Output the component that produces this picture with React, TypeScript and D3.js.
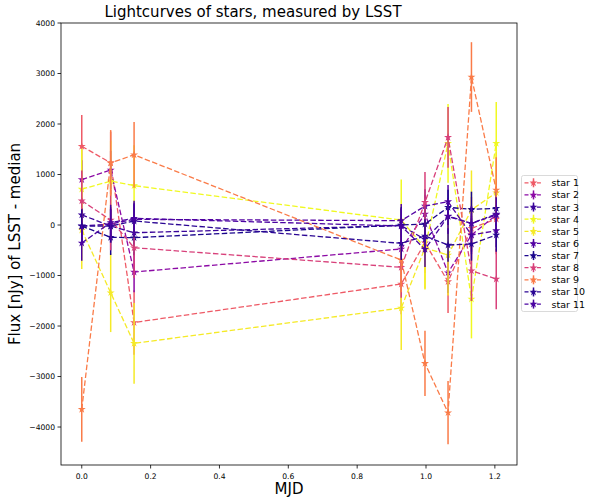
import React, { useEffect, useRef } from 'react'
import * as d3 from 'd3'

// time axis shared by all stars (MJD, shifted)
const mjd = [0, 0.084, 0.152, 0.928, 0.997, 1.064, 1.132, 1.204]

const starNames = ['star 1', 'star 2', 'star 3', 'star 4', 'star 5', 'star 6', 'star 7', 'star 8', 'star 9', 'star 10', 'star 11']

// flux minus median, nJy
const star1 = [1560, 1230, -1930, -1168, -350, -1122, -66, 119]
const star2 = [900, 1089, -931, -475, 218, -944, -198, 198]
const star3 = [200, -20, -152, -13, -284, 178, 33, 218]
const star4 = [710, 870, 780, 99, -455, 1617, -1465, 1617]
const star5 = [-100, -1340, -2343, -1643, -455, -594, 300, 640]
const star6 = [-20, 20, 112, 86, 376, 462, -198, -112]
const star7 = [-20, -244, -251, 0, 20, 350, 310, 330]
const star8 = [480, 99, -450, -838, 449, 1736, -905, -1069]
const star9 = [-3650, 1230, 1390, -693, -2740, -3716, 2930, 693]
const star10 = [-20, -20, 79, -363, -218, -396, -376, -198]
const star11 = [-356, 50, 132, -20, -482, 170, 30, 200]

// flux errors, nJy
const star1Err = [620, 620, 640, 600, 600, 620, 620, 700]
const star2Err = [380, 380, 400, 380, 380, 400, 380, 380]
const star3Err = [330, 330, 330, 330, 330, 330, 330, 330]
const star4Err = [800, 800, 800, 800, 800, 780, 780, 820]
const star5Err = [770, 780, 800, 830, 820, 800, 780, 800]
const star6Err = [330, 330, 330, 330, 330, 330, 330, 330]
const star7Err = [350, 350, 350, 350, 350, 350, 350, 350]
const star8Err = [600, 600, 600, 600, 600, 600, 600, 600]
const star9Err = [640, 650, 650, 640, 645, 625, 690, 650]
const star10Err = [330, 330, 330, 330, 330, 330, 330, 330]
const star11Err = [350, 350, 350, 350, 350, 350, 350, 350]

const yTicks = [-4000, -3000, -2000, -1000, 0, 1000, 2000, 3000, 4000]
const xTicks = [0, 0.2, 0.4, 0.6, 0.8, 1.0, 1.2]

const fluxes = [star1, star2, star3, star4, star5, star6, star7, star8, star9, star10, star11]
const errors = [star1Err, star2Err, star3Err, star4Err, star5Err, star6Err, star7Err, star8Err, star9Err, star10Err, star11Err]

const COLORS = ['#ee5a66', '#8c0aa5', '#3a049a', '#f0f921', '#f5ea27', '#5302a3', '#1b068d', '#d8407a', '#fa7b48', '#2a0593', '#4a03a1']

const W = 596
const H = 500
const M = { left: 61, right: 517, top: 23, bottom: 465 }
const FONT = 'DejaVu Sans, sans-serif'

type Pt = { x: number; y: number; e: number }

export default function App(): JSX.Element {
  const svgRef = useRef<SVGSVGElement | null>(null)

  useEffect(() => {
    const svg = d3.select(svgRef.current)
    svg.selectAll('*').remove()

    const x = d3.scaleLinear().domain([-0.0603, 1.2643]).range([M.left, M.right])
    const y = d3.scaleLinear().domain([-4752, 4000]).range([M.bottom, M.top])

    const fmtY = (d: number) => (d < 0 ? '\u2212' + Math.abs(d) : String(d))

    // title + axis labels
    svg.append('text').attr('x', (M.left + M.right) / 2 - 36).attr('y', 17).attr('text-anchor', 'middle')
      .attr('font-family', FONT).attr('font-size', 15).text('Lightcurves of stars, measured by LSST')
    svg.append('text').attr('x', (M.left + M.right) / 2).attr('y', 494).attr('text-anchor', 'middle')
      .attr('font-family', FONT).attr('font-size', 15).text('MJD')
    svg.append('text').attr('transform', `translate(20,${(M.top + M.bottom) / 2}) rotate(-90)`).attr('text-anchor', 'middle')
      .attr('font-family', FONT).attr('font-size', 15).text('Flux [nJy] of LSST - median')

    // ticks
    const gx = svg.append('g')
    xTicks.forEach((t) => {
      gx.append('line').attr('x1', x(t)).attr('x2', x(t)).attr('y1', M.bottom).attr('y2', M.bottom + 3.5).attr('stroke', '#000').attr('stroke-width', 0.8)
      gx.append('text').attr('x', x(t)).attr('y', M.bottom + 14).attr('text-anchor', 'middle')
        .attr('font-family', FONT).attr('font-size', 7.6).text(t.toFixed(1))
    })
    const gy = svg.append('g')
    yTicks.forEach((t) => {
      gy.append('line').attr('x1', M.left - 3.5).attr('x2', M.left).attr('y1', y(t)).attr('y2', y(t)).attr('stroke', '#000').attr('stroke-width', 0.8)
      gy.append('text').attr('x', M.left - 6).attr('y', y(t) + 2.8).attr('text-anchor', 'end')
        .attr('font-family', FONT).attr('font-size', 7.6).text(fmtY(t))
    })

    const plot = svg.append('g')
    const lineFn = d3.line<Pt>().x((d) => x(d.x)).y((d) => y(d.y))
    const star = d3.symbol().type(d3.symbolStar).size(20)

    fluxes.forEach((vals, i) => {
      const pts: Pt[] = vals.map((v, j) => ({ x: mjd[j], y: v, e: errors[i][j] }))
      const g = plot.append('g')
      g.selectAll('line.err').data(pts).enter().append('line')
        .attr('x1', (d) => x(d.x)).attr('x2', (d) => x(d.x))
        .attr('y1', (d) => y(d.y - d.e)).attr('y2', (d) => y(d.y + d.e))
        .attr('stroke', COLORS[i]).attr('stroke-width', 1.5)
      g.append('path').datum(pts).attr('d', lineFn).attr('fill', 'none')
        .attr('stroke', COLORS[i]).attr('stroke-width', 1.3).attr('stroke-dasharray', '5.5,2.4')
      g.selectAll('path.mk').data(pts).enter().append('path')
        .attr('transform', (d) => `translate(${x(d.x)},${y(d.y)})`)
        .attr('d', star).attr('fill', COLORS[i])
    })

    // frame
    svg.append('rect').attr('x', M.left).attr('y', M.top).attr('width', M.right - M.left).attr('height', M.bottom - M.top)
      .attr('fill', 'none').attr('stroke', '#000').attr('stroke-width', 0.8)

    // legend
    const lg = svg.append('g').attr('transform', 'translate(521.5,175.5)')
    lg.append('rect').attr('width', 56).attr('height', 136).attr('rx', 2).attr('fill', '#fff')
      .attr('stroke', '#d0d0d0').attr('stroke-width', 0.8)
    starNames.forEach((name, i) => {
      const cy = 7.3 + i * 12.13
      lg.append('line').attr('x1', 3).attr('x2', 21).attr('y1', cy).attr('y2', cy)
        .attr('stroke', COLORS[i]).attr('stroke-width', 1.3).attr('stroke-dasharray', '4,2.2')
      lg.append('line').attr('x1', 12).attr('x2', 12).attr('y1', cy - 4.5).attr('y2', cy + 4.5)
        .attr('stroke', COLORS[i]).attr('stroke-width', 1.5)
      lg.append('path').attr('transform', `translate(12,${cy})`).attr('d', star).attr('fill', COLORS[i])
      lg.append('text').attr('x', 30).attr('y', cy + 3.5).attr('font-family', FONT).attr('font-size', 9.5).text(name)
    })
  }, [])

  return (
    <svg
      ref={svgRef}
      width={W}
      height={H}
      style={{ position: 'absolute', left: 0, top: 0, background: '#fff' }}
      xmlns="http://www.w3.org/2000/svg"
    />
  )
}
